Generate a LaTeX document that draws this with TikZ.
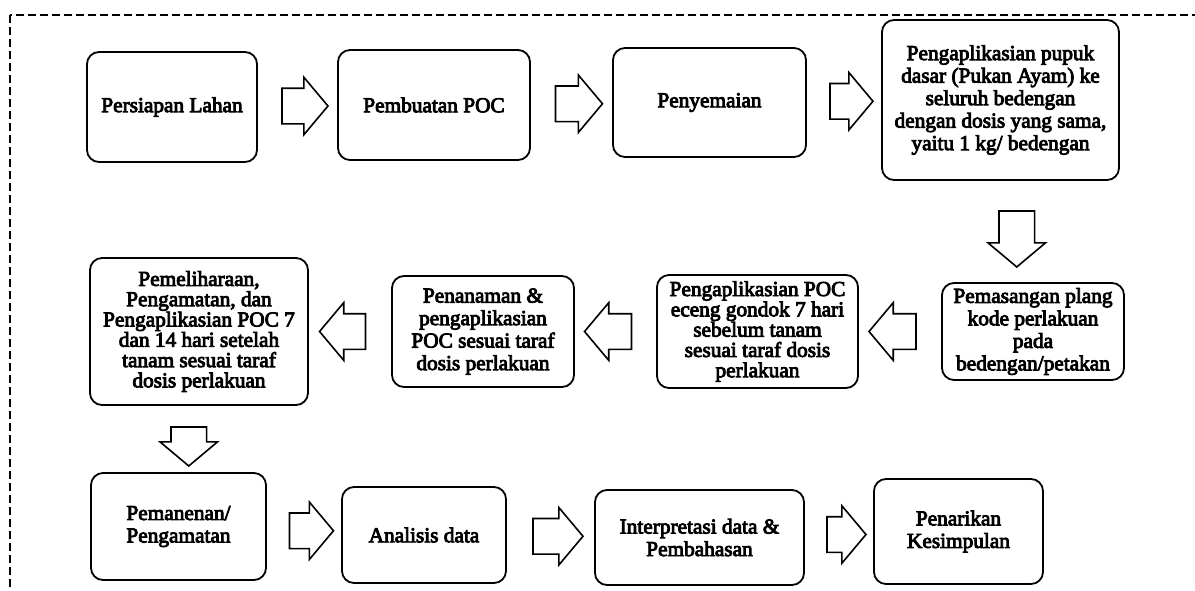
\documentclass[tikz,border=0pt]{standalone}
\usepackage{fontspec}
\setmainfont{Liberation Serif}
\newfontfamily\stepfont{Liberation Serif}[FakeBold=4]
\usetikzlibrary{shapes.arrows,calc}

\tikzset{
  stepbox/.style={draw, line width=1.8pt, rounded corners=12pt, align=center,
    inner sep=2pt, font=\stepfont\fontsize{21.3}{22.5}\selectfont},
  tightbox/.style={font=\stepfont\fontsize{21.3}{20.3}\selectfont},
  flowarrow/.style={single arrow, draw, line width=1.6pt, inner xsep=0pt, inner ysep=17pt,
    single arrow head extend=11pt, single arrow tip angle=100}
}

\begin{document}
\begin{tikzpicture}[x=1pt, y=-1pt]
            \useasboundingbox (0,0) rectangle (1195,590);
            \draw[line width=1.3pt, dash pattern=on 8pt off 4pt] (10,15) rectangle (1230,620);
            % first row
            \node[stepbox, minimum width=170pt, minimum height=110pt] (persiapan) at (172,107) {Persiapan Lahan};
            \node[stepbox, minimum width=192pt, minimum height=110pt] (pembuatan) at (434,105) {Pembuatan POC};
            \node[stepbox, minimum width=193pt, minimum height=109pt] (penyemaian) at (709.5,102.5) {Penyemaian};
            \node[stepbox, minimum width=237pt, minimum height=160pt] (pupuk) at (1000.5,100) {Pengaplikasian pupuk\\dasar (Pukan Ayam) ke\\seluruh bedengan\\dengan dosis yang sama,\\yaitu 1 kg/ bedengan};
            % second row
            \node[stepbox, minimum width=182pt, minimum height=97pt] (plang) at (1033,331.5) {Pemasangan plang\\kode perlakuan\\pada\\bedengan/petakan};
            \node[stepbox, tightbox, minimum width=201pt, minimum height=113pt] (pocgondok) at (757.5,331.5) {Pengaplikasian POC\\eceng gondok 7 hari\\sebelum tanam\\sesuai taraf dosis\\perlakuan};
            \node[stepbox, minimum width=182pt, minimum height=111pt] (penanaman) at (483,331.5) {Penanaman \&\\pengaplikasian\\POC sesuai taraf\\dosis perlakuan};
            \node[stepbox, tightbox, minimum width=218pt, minimum height=147pt] (pemeliharaan) at (199,331.5) {Pemeliharaan,\\Pengamatan, dan\\Pengaplikasian POC 7\\dan 14 hari setelah\\tanam sesuai taraf\\dosis perlakuan};
            % third row
            \node[stepbox, minimum width=175pt, minimum height=107pt] (pemanenan) at (178.5,526.5) {Pemanenan/\\Pengamatan};
            \node[stepbox, minimum width=164pt, minimum height=96pt] (analisis) at (424,535) {Analisis data};
            \node[stepbox, minimum width=209pt, minimum height=95pt] (interpretasi) at (699.5,537.5) {Interpretasi data \&\\Pembahasan};
            \node[stepbox, minimum width=169pt, minimum height=105pt] (kesimpulan) at (958.5,531.5) {Penarikan\\Kesimpulan};
            % block arrows
            \foreach \from/\fa/\to/\ta/\len/\rot in {
                persiapan/east/pembuatan/west/46/0,
                pembuatan/east/penyemaian/west/47/0,
                penyemaian/east/pupuk/west/43/0,
                pupuk/south/plang/north/56/-90,
                plang/west/pocgondok/east/47/180,
                pocgondok/west/penanaman/east/47/180,
                penanaman/west/pemeliharaan/east/46/180,
                pemeliharaan/south/pemanenan/north/39/-90,
                pemanenan/east/analisis/west/44/0,
                analisis/east/interpretasi/west/50/0,
                interpretasi/east/kesimpulan/west/39/0}{
                \node[flowarrow, minimum height=\len pt, rotate=\rot] at ($(\from.\fa)!0.5!(\to.\ta)$) {};
            }
        \end{tikzpicture}
\end{document}
